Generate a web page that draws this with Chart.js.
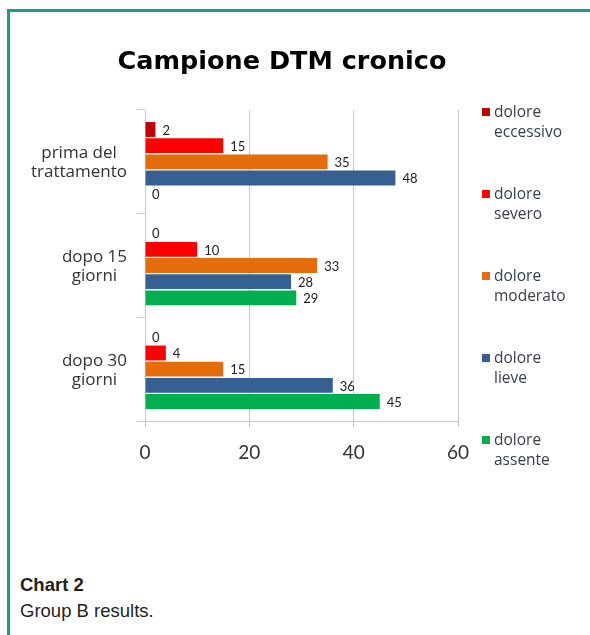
<!DOCTYPE html>
<html>
<head>
<meta charset="utf-8">
<script src="https://cdn.jsdelivr.net/npm/chart.js@4.4.0/dist/chart.umd.min.js"></script>
<style>
  html, body { margin: 0; padding: 0; background: #fff; }
  body { width: 590px; height: 635px; position: relative; overflow: hidden; }
  .frame {
    position: absolute; left: 7px; top: 9px; width: 640px; height: 700px;
    border-top: 3px solid #169b86; border-left: 3px solid #169b86;
  }
  #wrap { position: absolute; left: 0; top: 0; width: 590px; height: 480px; }
  .caption {
    position: absolute; left: 20px; top: 572px;
    font-family: "Liberation Sans", Arial, sans-serif; font-size: 18.5px;
    color: #231f20; line-height: 26px;
  }
  .caption b { font-weight: bold; }
</style>
</head>
<body>
<div class="frame"></div>
<div id="wrap"><canvas id="chart"></canvas></div>
<div class="caption"><b>Chart 2</b><br>Group B results.</div>

<script>
const categories = [
  ['prima del', 'trattamento'],
  ['dopo 15', 'giorni'],
  ['dopo 30', 'giorni']
];
const seriesNames = [
  ['dolore', 'eccessivo'],
  ['dolore', 'severo'],
  ['dolore', 'moderato'],
  ['dolore', 'lieve'],
  ['dolore', 'assente']
];
const seriesColors = ['#c00000', '#ff0000', '#e46c0a', '#376092', '#00b050'];

const eccessivo = [2, 0, 0];
const severo    = [15, 10, 4];
const moderato  = [35, 33, 15];
const lieve     = [48, 28, 36];
const assente   = [0, 29, 45];

const xTicks = [0, 20, 40, 60];

const allValues = [eccessivo, severo, moderato, lieve, assente];
const gridColor = '#c8c8c8';

// value labels at the end of each bar
const valueLabels = {
  id: 'valueLabels',
  afterDatasetsDraw(chart) {
    const ctx = chart.ctx;
    ctx.save();
    ctx.font = '13px Lato, sans-serif';
    ctx.fillStyle = '#222';
    ctx.textAlign = 'left';
    ctx.textBaseline = 'middle';
    chart.data.datasets.forEach((ds, i) => {
      chart.getDatasetMeta(i).data.forEach((bar, j) => {
        ctx.fillText(String(ds.data[j]), bar.x + 7, bar.y + 1);
      });
    });
    ctx.restore();
  }
};

// two-line category labels, lines centred in a right-aligned block
const catLabels = {
  id: 'catLabels',
  afterDraw(chart) {
    const ctx = chart.ctx;
    const y = chart.scales.y;
    const right = y.right - 18;
    ctx.save();
    ctx.font = '17px "Open Sans", sans-serif';
    ctx.fillStyle = '#333';
    ctx.textAlign = 'center';
    ctx.textBaseline = 'middle';
    categories.forEach((lines, i) => {
      const w = Math.max(...lines.map(l => ctx.measureText(l).width));
      const cx = right - w / 2;
      const cy = y.getPixelForValue(i);
      const lh = 19;
      lines.forEach((l, k) => {
        ctx.fillText(l, cx, cy + (k - (lines.length - 1) / 2) * lh + 1);
      });
    });
    ctx.restore();
  }
};

// legend on the right with two-line labels
const sideLegend = {
  id: 'sideLegend',
  afterDraw(chart) {
    const ctx = chart.ctx;
    const x0 = 482, y0 = 112, pitch = 82;
    ctx.save();
    ctx.font = '15.5px "Open Sans", sans-serif';
    ctx.textAlign = 'left';
    ctx.textBaseline = 'middle';
    seriesNames.forEach((lines, i) => {
      const cy = y0 + i * pitch;
      ctx.fillStyle = seriesColors[i];
      ctx.fillRect(x0, cy - 4, 8, 8);
      ctx.fillStyle = '#3a3d4c';
      lines.forEach((l, k) => ctx.fillText(l, x0 + 12, cy + 1 + k * 20));
    });
    ctx.restore();
  }
};

new Chart(document.getElementById('chart'), {
  type: 'bar',
  data: {
    labels: categories.map(c => c.join(' ')),
    datasets: seriesNames.map((n, i) => ({
      label: n.join(' '),
      data: allValues[i],
      backgroundColor: seriesColors[i],
      categoryPercentage: 0.78,
      barPercentage: 0.92
    }))
  },
  options: {
    indexAxis: 'y',
    responsive: true,
    maintainAspectRatio: false,
    animation: false,
    layout: { padding: { left: 106, right: 132, top: 47, bottom: 9 } },
    plugins: {
      legend: { display: false },
      tooltip: { enabled: false },
      title: {
        display: true,
        text: 'Campione DTM cronico',
        color: '#000',
        font: { family: 'DejaVu Sans', size: 25.5, weight: 'bold', lineHeight: 1.2 },
        padding: { top: 0, bottom: 32.4 }
      }
    },
    scales: {
      x: {
        min: 0, max: 60,
        afterFit: s => { s.height = 50; },
        afterBuildTicks: s => { s.ticks = xTicks.map(v => ({ value: v })); },
        grid: { color: gridColor, tickLength: 6, drawTicks: true },
        border: { display: true, color: gridColor },
        ticks: {
          color: '#333',
          padding: 14,
          font: { family: 'Lato', size: 19 }
        }
      },
      y: {
        afterFit: s => { s.width = 39; },
        grid: { color: gridColor, drawOnChartArea: false, tickLength: 8, offset: true },
        border: { display: true, color: gridColor },
        ticks: { display: false }
      }
    }
  },
  plugins: [valueLabels, catLabels, sideLegend]
});
</script>
</body>
</html>
